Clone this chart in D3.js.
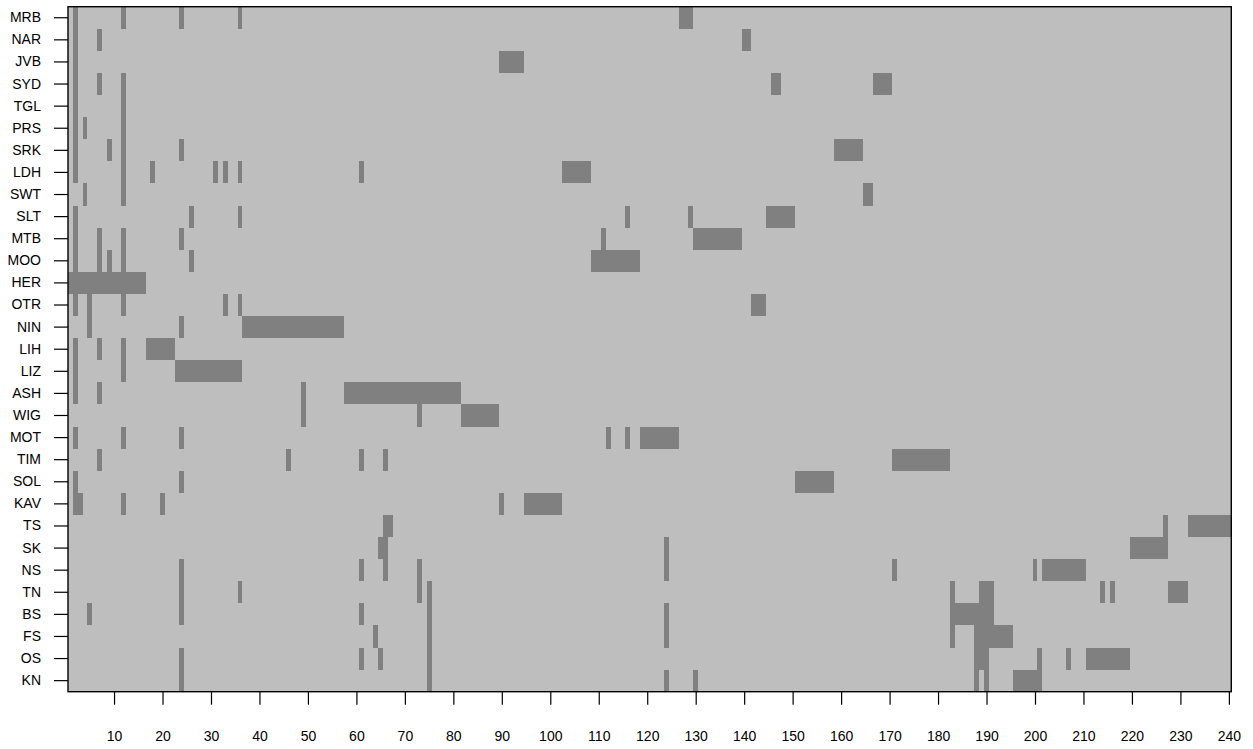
<!DOCTYPE html>
<html>
<head>
<meta charset="utf-8">
<script src="https://cdn.jsdelivr.net/npm/d3@7"></script>
<style>
  html, body { margin: 0; padding: 0; background: #ffffff; }
  svg { display: block; }
  text { font-family: "Liberation Sans", Arial, Helvetica, sans-serif; fill: #000; }
</style>
</head>
<body>
<svg id="chart" width="1253" height="749"></svg>
<script>
// Row labels, top to bottom
const rowLabels = ["MRB", "NAR", "JVB", "SYD", "TGL", "PRS", "SRK", "LDH", "SWT", "SLT",
  "MTB", "MOO", "HER", "OTR", "NIN", "LIH", "LIZ", "ASH", "WIG", "MOT",
  "TIM", "SOL", "KAV", "TS", "SK", "NS", "TN", "BS", "FS", "OS", "KN"];

// Occupied columns for each row, as inclusive [first, last] runs
const activeRuns = [
  [[2, 2], [12, 12], [24, 24], [36, 36], [127, 129]],                               // MRB
  [[2, 2], [7, 7], [140, 141]],                                                     // NAR
  [[2, 2], [90, 94]],                                                               // JVB
  [[2, 2], [7, 7], [12, 12], [146, 147], [167, 170]],                               // SYD
  [[2, 2], [12, 12]],                                                               // TGL
  [[2, 2], [4, 4], [12, 12]],                                                       // PRS
  [[2, 2], [9, 9], [12, 12], [24, 24], [159, 164]],                                 // SRK
  [[2, 2], [12, 12], [18, 18], [31, 31], [33, 33], [36, 36], [61, 61], [103, 108]], // LDH
  [[4, 4], [12, 12], [165, 166]],                                                   // SWT
  [[2, 2], [26, 26], [36, 36], [116, 116], [129, 129], [145, 150]],                 // SLT
  [[2, 2], [7, 7], [12, 12], [24, 24], [111, 111], [130, 139]],                     // MTB
  [[2, 2], [7, 7], [9, 9], [12, 12], [26, 26], [109, 118]],                         // MOO
  [[1, 16]],                                                                        // HER
  [[2, 2], [5, 5], [12, 12], [33, 33], [36, 36], [142, 144]],                       // OTR
  [[5, 5], [24, 24], [37, 57]],                                                     // NIN
  [[2, 2], [7, 7], [12, 12], [17, 22]],                                             // LIH
  [[2, 2], [12, 12], [23, 36]],                                                     // LIZ
  [[2, 2], [7, 7], [49, 49], [58, 81]],                                             // ASH
  [[49, 49], [73, 73], [82, 89]],                                                   // WIG
  [[2, 2], [12, 12], [24, 24], [112, 112], [116, 116], [119, 126]],                 // MOT
  [[7, 7], [46, 46], [61, 61], [66, 66], [171, 182]],                               // TIM
  [[2, 2], [24, 24], [151, 158]],                                                   // SOL
  [[2, 3], [12, 12], [20, 20], [90, 90], [95, 102]],                                // KAV
  [[66, 67], [227, 227], [232, 240]],                                               // TS
  [[65, 66], [124, 124], [220, 227]],                                               // SK
  [[24, 24], [61, 61], [66, 66], [73, 73], [124, 124], [171, 171], [200, 200], [202, 210]], // NS
  [[24, 24], [36, 36], [73, 73], [75, 75], [183, 183], [189, 191], [214, 214], [216, 216], [228, 231]], // TN
  [[5, 5], [24, 24], [61, 61], [75, 75], [124, 124], [183, 191]],                   // BS
  [[64, 64], [75, 75], [124, 124], [183, 183], [188, 195]],                         // FS
  [[24, 24], [61, 61], [65, 65], [75, 75], [188, 190], [201, 201], [207, 207], [211, 219]], // OS
  [[24, 24], [75, 75], [124, 124], [130, 130], [188, 188], [190, 190], [196, 201]]  // KN
];

// Column range and bottom axis tick values
const columnCount = 240;
const xTickValues = [10, 20, 30, 40, 50, 60, 70, 80, 90, 100, 110, 120, 130, 140, 150,
  160, 170, 180, 190, 200, 210, 220, 230, 240];

const width = 1253, height = 749;
const margin = { top: 6.7, right: 21.7, bottom: 57.3, left: 68 };
const fontFamily = "'Liberation Sans', Arial, Helvetica, sans-serif";

const svg = d3.select("#chart");

// Each column i covers [i - 0.5, i + 0.5]
const x = d3.scaleLinear()
  .domain([0.5, columnCount + 0.5])
  .range([margin.left, width - margin.right]);

const y = d3.scaleBand()
  .domain(rowLabels)
  .range([margin.top, height - margin.bottom])
  .padding(0);

// Background of empty cells
svg.append("rect")
  .attr("x", x(0.5))
  .attr("y", margin.top)
  .attr("width", x(columnCount + 0.5) - x(0.5))
  .attr("height", height - margin.bottom - margin.top)
  .attr("fill", "#bebebe");

// Occupied cells
const cells = [];
rowLabels.forEach((label, r) => {
  activeRuns[r].forEach(([a, b]) => cells.push({ label, a, b }));
});

svg.append("g")
  .selectAll("rect")
  .data(cells)
  .join("rect")
  .attr("x", d => x(d.a - 0.5))
  .attr("y", d => y(d.label))
  .attr("width", d => x(d.b + 0.5) - x(d.a - 0.5))
  .attr("height", y.bandwidth())
  .attr("fill", "#808080")
  .attr("shape-rendering", "crispEdges");

// Left axis with row labels
const yAxis = svg.append("g")
  .attr("transform", `translate(${margin.left},0)`)
  .call(d3.axisLeft(y).tickSize(14).tickPadding(13));
yAxis.select(".domain").remove();
yAxis.selectAll(".tick line").attr("stroke", "#000").attr("stroke-width", 1.2);
yAxis.selectAll(".tick text")
  .attr("font-size", 14)
  .attr("font-family", fontFamily);

// Bottom axis
const xAxis = svg.append("g")
  .attr("transform", `translate(0,${height - margin.bottom})`)
  .call(d3.axisBottom(x).tickValues(xTickValues).tickSize(13).tickPadding(26));
xAxis.select(".domain").remove();
xAxis.selectAll(".tick line").attr("stroke", "#000").attr("stroke-width", 1.2);
xAxis.selectAll(".tick text")
  .attr("font-size", 14)
  .attr("font-family", fontFamily);

// Frame around the plotting region
svg.append("rect")
  .attr("x", x(0.5))
  .attr("y", margin.top)
  .attr("width", x(columnCount + 0.5) - x(0.5))
  .attr("height", height - margin.bottom - margin.top)
  .attr("fill", "none")
  .attr("stroke", "#000")
  .attr("stroke-width", 1.4);
</script>
</body>
</html>
